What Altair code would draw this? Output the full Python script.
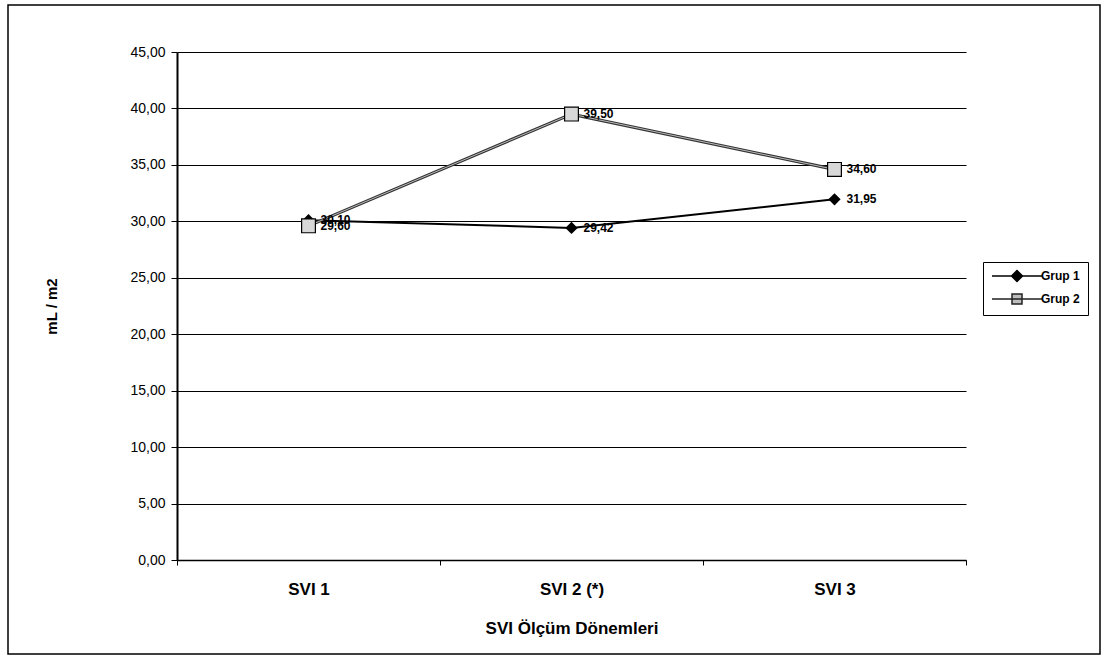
import altair as alt
import pandas as pd

categories = ["SVI 1", "SVI 2 (*)", "SVI 3"]
grup1 = [30.10, 29.42, 31.95]
grup2 = [29.60, 39.50, 34.60]
series_names = ["Grup 1", "Grup 2"]
y_ticks = [0, 5, 10, 15, 20, 25, 30, 35, 40, 45]

rows = []
for s, vals in zip(series_names, [grup1, grup2]):
    for c, v in zip(categories, vals):
        rows.append({"cat": c, "val": v, "series": s,
                     "label": f"{v:.2f}".replace(".", ",")})
df = pd.DataFrame(rows)

W, H = 789, 508
FONT = "Liberation Sans"

x_enc = alt.X(
    "cat:N", sort=categories,
    scale=alt.Scale(type="band", paddingInner=0, paddingOuter=0),
    bandPosition=0.5,
    axis=alt.Axis(title="SVI Ölçüm Dönemleri", tickBand="extent", labelAngle=0,
                  domainColor="black", domainWidth=1.5, tickColor="black",
                  tickSize=5, tickWidth=1, labelFont=FONT, labelFontSize=17,
                  labelFontWeight="bold", labelColor="black", labelPadding=16,
                  titleFont=FONT, titleFontSize=17, titleFontWeight="bold",
                  titleColor="black", titleY=68, titleBaseline="middle", grid=False),
)
y_enc = alt.Y(
    "val:Q", scale=alt.Scale(domain=[0, 45], nice=False, zero=True),
    axis=alt.Axis(title="mL / m2", values=y_ticks,
                  labelExpr="replace(format(datum.value, '.2f'), '.', ',')",
                  domainColor="black", domainWidth=2, tickColor="black",
                  tickSize=6, tickWidth=1, labelFont=FONT, labelFontSize=14,
                  labelColor="black", labelPadding=6,
                  grid=True, gridColor="black", gridWidth=1, gridOpacity=1,
                  titleFont=FONT, titleFontSize=15, titleFontWeight="bold",
                  titleColor="black", titleX=-126, titleY=H / 2,
                  titleAngle=-90, titleBaseline="middle", titleAlign="center"),
)

base = alt.Chart(df)
g1 = base.transform_filter(alt.datum.series == "Grup 1")
g2 = base.transform_filter(alt.datum.series == "Grup 2")

line1 = g1.mark_line(color="black", strokeWidth=2).encode(x=x_enc, y=y_enc)
line2a = g2.mark_line(color="#333333", strokeWidth=3.2).encode(x=x_enc, y=y_enc)
line2b = g2.mark_line(color="#bbbbbb", strokeWidth=1).encode(x=x_enc, y=y_enc)
pts1 = g1.mark_point(shape="diamond", filled=True, size=150, color="black",
                     opacity=1).encode(x=x_enc, y=y_enc)
pts2 = g2.mark_point(shape="square", filled=True, size=190, fill="#d8d8d8",
                     stroke="black", strokeWidth=1.2, opacity=1).encode(x=x_enc, y=y_enc)
txt = base.mark_text(align="left", baseline="middle", dx=12, font=FONT,
                     fontSize=12, fontWeight="bold", color="black").encode(
    x=x_enc, y=y_enc, text="label:N")

path1 = "M-5,0L5,0M-1.1,0L0,-1.1L1.1,0L0,1.1Z"
path2 = "M-5,0L5,0M-1,-1L1,-1L1,1L-1,1Z"


def leg():
    return alt.Legend(title=None, orient="none", legendX=806, legendY=210,
                      strokeColor="black", padding=8,
                      labelFont=FONT, labelFontSize=12, labelFontWeight="bold",
                      labelColor="black",
                      symbolSize=100, symbolStrokeWidth=1.5, symbolOpacity=1,
                      symbolOffset=20, labelOffset=18, rowPadding=6)


legend_layer = base.transform_filter("false").mark_point(
    filled=True, strokeWidth=1.5, size=100
).encode(
    x=x_enc, y=y_enc,
    shape=alt.Shape("series:N", scale=alt.Scale(domain=series_names, range=[path1, path2]),
                    legend=leg()),
    fill=alt.Fill("series:N", scale=alt.Scale(domain=series_names, range=["black", "#bdbdbd"]),
                  legend=leg()),
    stroke=alt.Stroke("series:N", scale=alt.Scale(domain=series_names, range=["black", "#222222"]),
                      legend=leg()),
)

frame = alt.Chart(pd.DataFrame({"a": [0]})).mark_rect(
    fill=None, stroke="black", strokeWidth=1.5
).encode(x=alt.value(-169), x2=alt.value(923), y=alt.value(-47), y2=alt.value(602))

chart = alt.layer(
    line1, line2a, line2b, pts1, pts2, txt, legend_layer, frame
).properties(
    width=W, height=H,
    autosize=alt.AutoSizeParams(type="none"),
    padding={"left": 177, "top": 52, "right": 144, "bottom": 111},
    background="white",
).configure_view(stroke=None)

chart.save("out.html", embed_options={"renderer": "svg", "actions": False})
